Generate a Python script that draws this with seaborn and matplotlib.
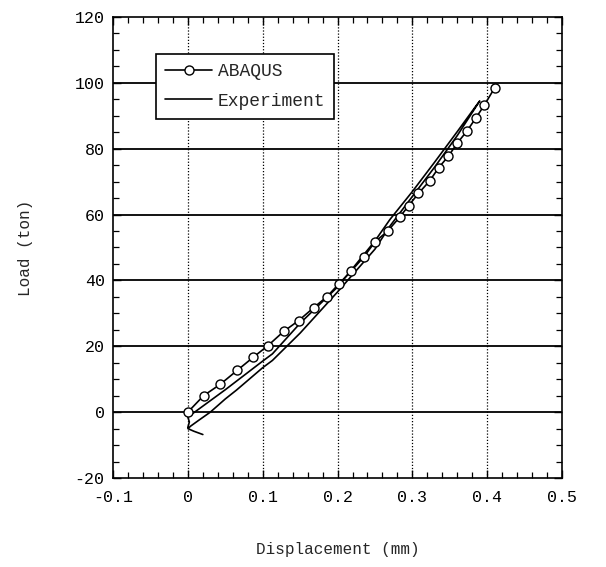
import numpy as np
import pandas as pd
import matplotlib
matplotlib.use("Agg")
import matplotlib.pyplot as plt
from matplotlib.ticker import MultipleLocator, FuncFormatter
import seaborn as sns

# ABAQUS load steps (displacement in mm, load in ton)
abaqus_disp = [0.0, 0.021, 0.043, 0.066, 0.087, 0.107, 0.128, 0.148, 0.168, 0.186,
               0.202, 0.218, 0.235, 0.250, 0.267, 0.283, 0.295, 0.308, 0.323, 0.335,
               0.348, 0.360, 0.373, 0.385, 0.396, 0.410]
abaqus_load = [0.0, 5.0, 8.4, 12.7, 16.6, 20.2, 24.5, 27.8, 31.7, 35.1,
               39.0, 42.8, 47.1, 51.7, 55.0, 59.2, 62.7, 66.4, 70.2, 74.2,
               77.7, 81.7, 85.4, 89.4, 93.2, 98.5]

# Measured loading / unloading loop
exp_disp = [0.020, 0.008, 0.000, 0.004, 0.015, 0.030, 0.050, 0.065, 0.100, 0.113,
            0.150, 0.200, 0.250, 0.270, 0.300, 0.330, 0.360, 0.390,
            0.385, 0.360, 0.330, 0.300, 0.270, 0.250, 0.200, 0.150, 0.113,
            0.100, 0.050, 0.000, 0.002, 0.000]
exp_load = [-6.8, -5.8, -5.0, -4.2, -2.4, 0.0, 4.0, 6.7, 13.5, 15.7,
            24.0, 36.5, 49.5, 56.5, 65.5, 74.5, 84.0, 94.5,
            93.0, 85.2, 76.0, 67.0, 58.5, 52.0, 38.0, 27.0, 17.7,
            15.5, 6.8, -1.5, -3.0, -4.6]

abaqus_df = pd.DataFrame({"disp": abaqus_disp, "load": abaqus_load})
exp_df = pd.DataFrame({"disp": exp_disp, "load": exp_load})

sns.set_style("ticks")
plt.rcParams["font.family"] = ["Liberation Mono", "DejaVu Sans Mono"]
plt.rcParams["axes.unicode_minus"] = False

fig = plt.figure(figsize=(6.06, 5.67), dpi=100)
ax = fig.add_axes([0.1865, 0.157, 0.741, 0.813])

# horizontal grid solid, vertical grid dotted
for yv in range(0, 120, 20):
    ax.axhline(yv, color="black", lw=1.3, zorder=1)
for xv in [0.0, 0.1, 0.2, 0.3, 0.4]:
    ax.axvline(xv, color="black", lw=0.9, ls=(0, (1, 1.5)), zorder=1)

sns.lineplot(data=abaqus_df, x="disp", y="load", ax=ax, sort=False, estimator=None,
             color="black", lw=1.2, marker="o", markersize=6.5,
             markerfacecolor="white", markeredgecolor="black", markeredgewidth=1.0,
             label="ABAQUS", zorder=3)
sns.lineplot(data=exp_df, x="disp", y="load", ax=ax, sort=False, estimator=None,
             color="black", lw=1.2, label="Experiment", zorder=2)

ax.set_xlim(-0.1, 0.5)
ax.set_ylim(-20, 120)
ax.xaxis.set_major_locator(MultipleLocator(0.1))
ax.xaxis.set_minor_locator(MultipleLocator(0.02))
ax.yaxis.set_major_locator(MultipleLocator(20))
ax.yaxis.set_minor_locator(MultipleLocator(5))

def xfmt(v, pos):
    if abs(v) < 1e-9:
        return "0"
    return f"{v:.1f}"

ax.xaxis.set_major_formatter(FuncFormatter(xfmt))
ax.yaxis.set_major_formatter(FuncFormatter(lambda v, p: f"{int(round(v))}"))

ax.tick_params(which="both", direction="in", top=True, right=True,
               colors="black", labelsize=12)
ax.tick_params(which="major", length=6, width=1.0, pad=6)
ax.tick_params(axis="x", which="major", pad=9)
ax.tick_params(which="minor", length=4, width=0.9)
for s in ax.spines.values():
    s.set_color("black")
    s.set_linewidth(1.2)

ax.set_xlabel("Displacement (mm)", fontsize=11.5, labelpad=26)
ax.set_ylabel("Load (ton)", fontsize=11.5, labelpad=30)

leg = ax.legend(loc="upper left", bbox_to_anchor=(0.096, 0.92), borderaxespad=0,
                fancybox=False, frameon=True, fontsize=13, handlelength=2.6,
                handletextpad=0.3, borderpad=0.5, labelspacing=0.7)
leg.get_frame().set_edgecolor("black")
leg.get_frame().set_linewidth(1.2)
leg.get_frame().set_alpha(1)

fig.savefig("out.png", dpi=100, facecolor="white")
